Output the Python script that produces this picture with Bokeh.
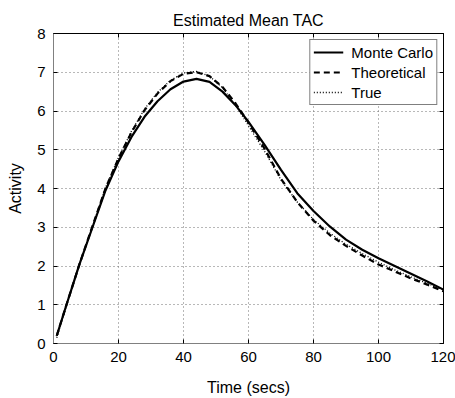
from bokeh.plotting import figure
from bokeh.models import LinearAxis, Range1d, FixedTicker, Title
from bokeh.embed import file_html
from bokeh.resources import INLINE

# Data
time_s = [1, 4, 8, 12, 16, 20, 24, 28, 32, 36, 40, 44, 48, 52, 56, 60,
          65, 70, 75, 80, 85, 90, 95, 100, 105, 110, 115, 120]
monte_carlo = [0.2, 1.0, 2.05, 3.0, 3.95, 4.7, 5.33, 5.85, 6.25, 6.56, 6.76, 6.83,
               6.75, 6.5, 6.15, 5.72, 5.12, 4.48, 3.88, 3.42, 3.02, 2.68, 2.42, 2.2,
               2.0, 1.8, 1.6, 1.39]
theoretical = [0.2, 1.0, 2.05, 3.03, 4.0, 4.78, 5.45, 6.02, 6.45, 6.77, 6.96, 7.0,
               6.9, 6.62, 6.2, 5.7, 5.02, 4.25, 3.65, 3.17, 2.8, 2.52, 2.27, 2.04,
               1.86, 1.68, 1.52, 1.35]
true_tac = [0.15, 0.98, 2.05, 3.03, 4.02, 4.8, 5.48, 6.05, 6.48, 6.79, 6.98, 7.02,
            6.9, 6.6, 6.15, 5.62, 4.95, 4.22, 3.65, 3.2, 2.85, 2.56, 2.32, 2.1,
            1.9, 1.72, 1.55, 1.38]
x_ticks = [0, 20, 40, 60, 80, 100, 120]
y_ticks = [0, 1, 2, 3, 4, 5, 6, 7, 8]

FONT = "Liberation Sans"

p = figure(width=455, height=398, output_backend="svg", toolbar_location=None,
           x_range=Range1d(0, 120), y_range=Range1d(0, 8),
           min_border_left=53, min_border_right=12, min_border_top=33,
           min_border_bottom=54)
p.outline_line_color = "black"
p.background_fill_color = "white"
p.border_fill_color = "white"

for ax in (p.xaxis[0], p.yaxis[0]):
    ax.major_tick_in = 4
    ax.major_tick_out = 0
    ax.minor_tick_line_color = None
    ax.axis_line_color = "#808080"
    ax.major_tick_line_color = "black"
    ax.major_label_text_font = FONT
    ax.major_label_text_font_size = "15px"
    ax.major_label_text_color = "black"
    ax.axis_label_text_font = FONT
    ax.axis_label_text_font_size = "16px"
    ax.axis_label_text_font_style = "normal"
    ax.axis_label_text_color = "black"
    ax.major_label_standoff = 8

p.xaxis[0].ticker = FixedTicker(ticks=x_ticks)
p.yaxis[0].ticker = FixedTicker(ticks=y_ticks)
p.xaxis[0].axis_label = "Time (secs)"
p.yaxis[0].axis_label = "Activity"
p.xaxis[0].axis_label_standoff = 14
p.yaxis[0].axis_label_standoff = 10

top = LinearAxis(ticker=FixedTicker(ticks=x_ticks))
right = LinearAxis(ticker=FixedTicker(ticks=y_ticks))
for ax in (top, right):
    ax.major_tick_in = 4
    ax.major_tick_out = 0
    ax.minor_tick_line_color = None
    ax.axis_line_color = "black"
    ax.major_label_text_font_size = "1px"
    ax.major_label_text_color = None
    ax.major_label_standoff = 0
p.add_layout(top, "above")
p.add_layout(right, "right")

title = Title(text="Estimated Mean TAC", align="center", text_font=FONT,
              text_font_size="16px", text_font_style="normal",
              text_color="black")
p.add_layout(title, "above")

p.xgrid.ticker = FixedTicker(ticks=x_ticks)
p.ygrid.ticker = FixedTicker(ticks=y_ticks)
for g in (p.xgrid[0], p.ygrid[0]):
    g.grid_line_color = "#707070"
    g.grid_line_dash = "1 3"
    g.grid_line_width = 1

p.line(time_s, monte_carlo, line_color="black", line_width=2.2,
       legend_label="Monte Carlo")
p.line(time_s, theoretical, line_color="black", line_width=2.2,
       line_dash="6 4", legend_label="Theoretical")
p.line(time_s, true_tac, line_color="black", line_width=1.3,
       line_dash="1 2", legend_label="True")

lg = p.legend[0]
lg.location = "top_right"
lg.margin = 6
lg.padding = 3
lg.spacing = 2
lg.label_height = 18
lg.glyph_height = 18
lg.glyph_width = 30
lg.label_standoff = 8
lg.label_text_font = FONT
lg.label_text_font_size = "15px"
lg.label_text_color = "black"
lg.border_line_color = "black"
lg.border_line_width = 1
lg.background_fill_color = "white"
lg.background_fill_alpha = 1.0

open("out.html", "w").write(file_html(p, INLINE))
